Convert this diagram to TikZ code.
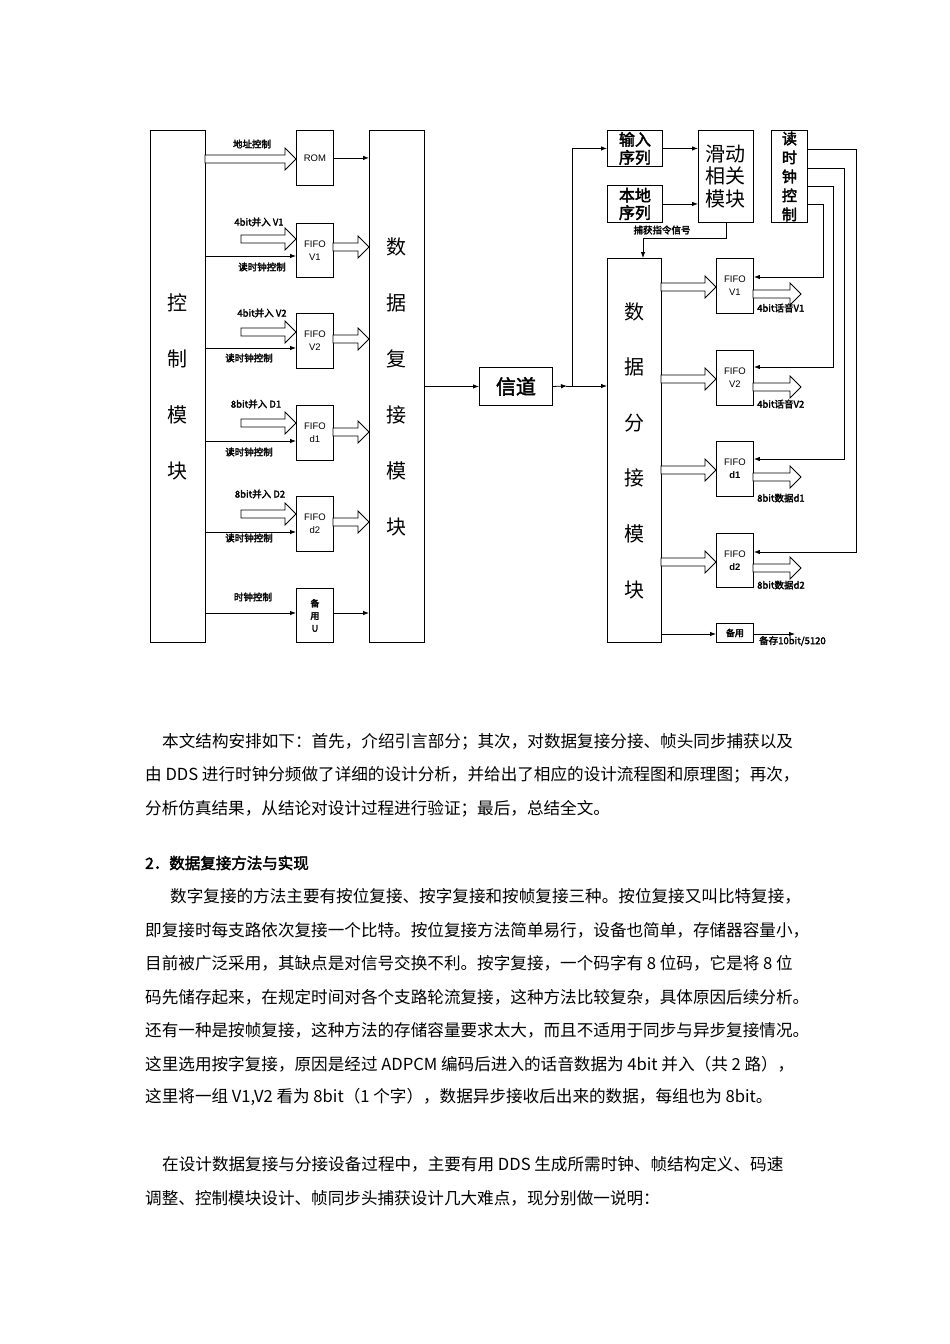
\documentclass[tikz,border=0pt]{standalone}
\usepackage{fontspec}
\setmainfont{Liberation Sans}
\newfontfamily\cjk{Noto Sans CJK SC}
\newfontfamily\cjkb{Noto Sans CJK SC}[FakeBold=2.5]
\usetikzlibrary{arrows.meta,calc}
\newcommand\harr[3]{\draw[harrow] (#1,#3-4) -- (#2-11,#3-4) -- (#2-11,#3-11) -- (#2,#3) -- (#2-11,#3+11) -- (#2-11,#3+4) -- (#1,#3+4) -- cycle;}
\begin{document}
\begin{tikzpicture}[x=1pt,y=-1pt,
 box/.style={draw,line width=0.9pt,inner sep=0pt,anchor=north west,align=center},
 con/.style={line width=0.8pt},
 arr/.style={line width=0.8pt,-{Latex[length=6pt,width=4.5pt]}},
 harrow/.style={draw,line width=0.8pt,fill=white},
 lbl/.style={font=\cjkb\fontsize{9.5}{10}\selectfont,inner sep=0pt},
 big/.style={font=\cjk\fontsize{20}{56}\selectfont},
 fifo/.style={font=\fontsize{9.5}{13}\selectfont},
 body/.style={font=\cjk\fontsize{16.6}{20}\selectfont,anchor=west,inner sep=0pt},
]
\useasboundingbox (0,0) rectangle (950,1344);
\fill[white] (0,0) rectangle (950,1344);

% ---------- left part ----------
\node[box,big,minimum width=55pt,minimum height=512pt] (ctrl) at (150,130) {控\\制\\模\\块};
\node[box,big,minimum width=55pt,minimum height=512pt] (mux) at (369,130) {数\\据\\复\\接\\模\\块};
\node[box,fifo,minimum width=37pt,minimum height=55pt] (rom) at (296,130) {ROM};
\node[box,fifo,minimum width=37pt,minimum height=54pt] (f1) at (296,223) {FIFO\\V1};
\node[box,fifo,minimum width=37pt,minimum height=55pt] (f2) at (296,313) {FIFO\\V2};
\node[box,fifo,minimum width=37pt,minimum height=55pt] (f3) at (296,405) {FIFO\\d1};
\node[box,fifo,minimum width=37pt,minimum height=55pt] (f4) at (296,496) {FIFO\\d2};
\node[box,font=\cjkb\fontsize{9}{12.5}\selectfont,minimum width=37pt,minimum height=54pt] (sp) at (296,588) {备\\用\\U};

\harr{205}{296}{159}
\draw[arr] (rom.east) -- (mux.west |- rom.east);
\harr{241}{296}{239}
\harr{241}{296}{332}
\harr{241}{296}{423}
\harr{241}{296}{514}
\draw[arr] (ctrl.east |- 0,256) -- (f1.west |- 0,256);
\draw[arr] (ctrl.east |- 0,348) -- (f2.west |- 0,348);
\draw[arr] (ctrl.east |- 0,441) -- (f3.west |- 0,441);
\draw[arr] (ctrl.east |- 0,532) -- (f4.west |- 0,532);
\harr{333}{369}{247}
\harr{333}{369}{339}
\harr{333}{369}{432}
\harr{333}{369}{522}
\draw[arr] (ctrl.east |- 0,613) -- (sp.west |- 0,613);
\draw[arr] (sp.east |- 0,613) -- (mux.west |- 0,613);

\node[lbl] (l1) at (252,144) {地址控制};
\node[lbl] (l2) at (259,222) {4bit并入 V1};
\node[lbl] (l3) at (262,267) {读时钟控制};
\node[lbl] (l4) at (262,313) {4bit并入 V2};
\node[lbl] (l5) at (249,358) {读时钟控制};
\node[lbl] (l6) at (256,404) {8bit并入 D1};
\node[lbl] (l7) at (249,452) {读时钟控制};
\node[lbl] (l8) at (260,494) {8bit并入 D2};
\node[lbl] (l9) at (249,538) {读时钟控制};
\node[lbl] (l10) at (253,597) {时钟控制};

% ---------- channel ----------
\node[box,font=\cjkb\fontsize{20}{22}\selectfont,minimum width=73pt,minimum height=38pt] (ch) at (479,367) {信道};
\draw[arr] (mux.east |- ch.west) -- (ch.west);
\coordinate (jn) at (572,386);
\draw[arr] (ch.east) -- ($(jn)+(-5,0)$);
\draw[con] ($(jn)+(-6,0)$) -- (jn);

% ---------- right part ----------
\node[box,font=\cjkb\fontsize{16}{18}\selectfont,minimum width=55pt,minimum height=36pt] (inseq) at (607,130) {输入\\序列};
\node[box,font=\cjkb\fontsize{16}{17.5}\selectfont,minimum width=55pt,minimum height=37pt] (locseq) at (607,185) {本地\\序列};
\node[box,font=\cjk\fontsize{20}{22.5}\selectfont,minimum width=55pt,minimum height=92pt] (slide) at (698,130) {滑动\\相关\\模块};
\node[box,font=\cjkb\fontsize{15}{19}\selectfont,minimum width=36pt,minimum height=92pt] (rclk) at (771,130) {读\\时\\钟\\控\\制};
\node[box,big,font=\cjk\fontsize{20}{55.6}\selectfont,minimum width=54pt,minimum height=384pt] (demux) at (607,258) {数\\据\\分\\接\\模\\块};
\node[box,fifo,minimum width=37pt,minimum height=55pt] (r1) at (716,258) {FIFO\\V1};
\node[box,fifo,minimum width=37pt,minimum height=55pt] (r2) at (716,350) {FIFO\\V2};
\node[box,fifo,minimum width=37pt,minimum height=55pt] (r3) at (716,441) {FIFO\\\textbf{d1}};
\node[box,fifo,minimum width=37pt,minimum height=54pt] (r4) at (716,533) {FIFO\\\textbf{d2}};
\node[box,font=\cjkb\fontsize{9}{10}\selectfont,minimum width=37pt,minimum height=19pt] (rsp) at (716,623) {备用};

\draw[arr] (jn) -- (demux.west |- jn);
\draw[arr] (jn) |- (inseq.west);
\draw[arr] (inseq.east) -- (slide.west |- inseq.east);
\draw[arr] (locseq.east) -- (slide.west |- locseq.east);
\coordinate (cap) at (643,238);
\draw[arr] (slide.south) |- (cap) -- (cap |- demux.north);
\node[lbl] (l11) at (662,230) {捕获指令信号};

\harr{661}{716}{287}
\harr{661}{716}{379}
\harr{661}{716}{470}
\harr{661}{716}{562}
\harr{753}{801}{294}
\harr{753}{801}{387}
\harr{753}{801}{477}
\harr{753}{801}{568}

\draw[arr] (rclk.east |- 0,149) -| (856,552) -- (r4.east |- 0,552);
\draw[arr] (rclk.east |- 0,168) -| (844,459) -- (r3.east |- 0,459);
\draw[arr] (rclk.east |- 0,186) -| (833,367) -- (r2.east |- 0,367);
\draw[arr] (rclk.east |- 0,204) -| (823,277) -- (r1.east |- 0,277);

\draw[arr] (demux.east |- 0,634) -- (rsp.west |- 0,634);
\coordinate (spend) at (795,634);
\draw[arr] (rsp.east |- spend) -- (spend);

\node[lbl,anchor=west] (l12) at (757,308) {4bit话音V1};
\node[lbl,anchor=west] (l13) at (757,404) {4bit话音V2};
\node[lbl,anchor=west] (l14) at (757,498) {8bit数据d1};
\node[lbl,anchor=west] (l15) at (757,585) {8bit数据d2};
\node[lbl,anchor=west] (l16) at (759,641) {备存10bit/5120};

% ---------- body text ----------
\node[body] (t1) at (162,742) {本文结构安排如下：首先，介绍引言部分；其次，对数据复接分接、帧头同步捕获以及};
\node[body] (t2) at (145,775) {由 DDS 进行时钟分频做了详细的设计分析，并给出了相应的设计流程图和原理图；再次，};
\node[body] (t3) at (145,809) {分析仿真结果，从结论对设计过程进行验证；最后，总结全文。};
\node[body,font=\cjkb\fontsize{15.5}{18}\selectfont] (h2) at (145,863) {2．数据复接方法与实现};
\node[body] (p1) at (170,896) {数字复接的方法主要有按位复接、按字复接和按帧复接三种。按位复接又叫比特复接，};
\node[body] (p2) at (145,930) {即复接时每支路依次复接一个比特。按位复接方法简单易行，设备也简单，存储器容量小，};
\node[body] (p3) at (145,963) {目前被广泛采用，其缺点是对信号交换不利。按字复接，一个码字有 8 位码，它是将 8 位};
\node[body] (p4) at (145,997) {码先储存起来，在规定时间对各个支路轮流复接，这种方法比较复杂，具体原因后续分析。};
\node[body] (p5) at (145,1030) {还有一种是按帧复接，这种方法的存储容量要求太大，而且不适用于同步与异步复接情况。};
\node[body] (p6) at (145,1064) {这里选用按字复接，原因是经过 ADPCM 编码后进入的话音数据为 4bit 并入（共 2 路），};
\node[body] (p7) at (145,1097) {这里将一组 V1,V2 看为 8bit（1 个字），数据异步接收后出来的数据，每组也为 8bit。};
\node[body] (q1) at (162,1164) {在设计数据复接与分接设备过程中，主要有用 DDS 生成所需时钟、帧结构定义、码速};
\node[body] (q2) at (145,1198) {调整、控制模块设计、帧同步头捕获设计几大难点，现分别做一说明：};
\end{tikzpicture}
\end{document}
